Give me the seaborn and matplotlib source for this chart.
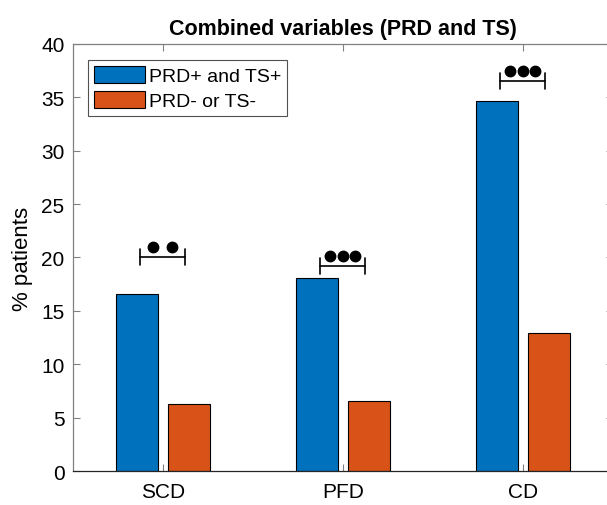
import pandas as pd
import matplotlib
matplotlib.use("Agg")
import matplotlib.pyplot as plt
import seaborn as sns

categories = ["SCD", "PFD", "CD"]
groups = ["PRD+ and TS+", "PRD- or TS-"]
pos_values = [16.56, 18.11, 34.64]
neg_values = [6.30, 6.55, 12.91]
# significance brackets: height of the bar line and number of dots
sig_heights = [20.05, 19.18, 36.5]
sig_stars = [2, 3, 3]

df = pd.DataFrame({
    "category": categories * 2,
    "group": [groups[0]] * 3 + [groups[1]] * 3,
    "value": pos_values + neg_values,
})

sns.set_style("ticks")
plt.rcParams["font.family"] = ["Liberation Sans", "DejaVu Sans"]
plt.rcParams["text.color"] = "black"
plt.rcParams["axes.labelcolor"] = "black"

fig = plt.figure(figsize=(6.07, 5.06), dpi=100)
ax = fig.add_axes([0.1198, 0.0666, 0.8896, 0.8451])

palette = {groups[0]: "#0072BD", groups[1]: "#D95319"}
sns.barplot(data=df, x="category", y="value", hue="group", order=categories,
            hue_order=groups, palette=palette, width=0.576, gap=0.19,
            edgecolor="black", linewidth=0.8, saturation=1, ax=ax)

ax.set_xlim(-0.5, 2.5)
ax.set_ylim(0, 40)
ax.set_yticks(range(0, 41, 5))
ax.set_xlabel("")
ax.set_ylabel("% patients", fontsize=16, labelpad=6, color="black")
ax.set_title("Combined variables (PRD and TS)", fontsize=15.5, fontweight="bold",
             pad=7, color="black")

for s in ax.spines.values():
    s.set_visible(True)
    s.set_color("#808080")
    s.set_linewidth(0.9)
ax.spines["bottom"].set_color("#262626")
ax.tick_params(direction="in", length=5, width=0.8, color="#808080",
               labelsize=15, top=True, right=True, labelcolor="black")
ax.tick_params(axis="x", pad=8)
ax.tick_params(axis="y", pad=6)

# significance brackets
for i, (h, n) in enumerate(zip(sig_heights, sig_stars)):
    x0, x1 = i - 0.125, i + 0.125
    ax.plot([x0, x1], [h, h], color="black", lw=1.2)
    ax.plot([x0, x0], [h - 0.75, h + 0.75], color="black", lw=1.2)
    ax.plot([x1, x1], [h - 0.75, h + 0.75], color="black", lw=1.2)
    if n == 2:
        xs = [i - 0.053, i + 0.053]
    else:
        xs = [i - 0.068, i, i + 0.068]
    ax.plot(xs, [h + 0.95] * n, "o", color="black", ms=7.5)

leg = ax.legend(loc="upper left", bbox_to_anchor=(0.029, 0.962), borderaxespad=0,
                fontsize=14, fancybox=False, frameon=True, edgecolor="#262626",
                handlelength=2.6, handleheight=1.0, handletextpad=0.2,
                borderpad=0.3, labelspacing=0.3, title=None, labelcolor="black")
leg.get_frame().set_linewidth(0.8)

fig.savefig("out.png", dpi=100)
